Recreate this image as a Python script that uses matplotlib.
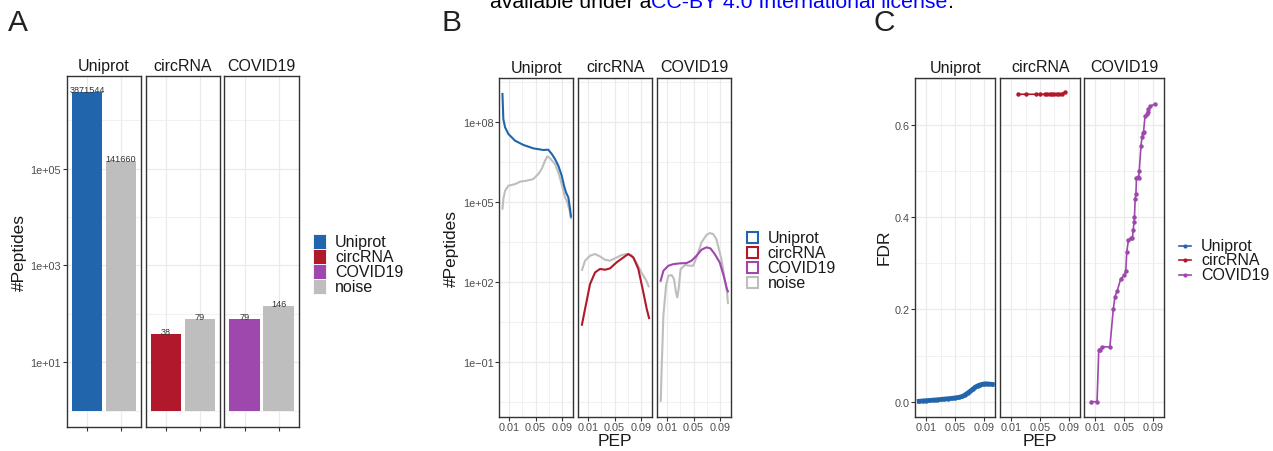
import numpy as np
import matplotlib
matplotlib.use("Agg")
import matplotlib.pyplot as plt
from matplotlib.patches import Rectangle
from matplotlib.lines import Line2D
from matplotlib.ticker import FixedLocator, NullFormatter

plt.rcParams['font.family'] = ['Liberation Sans', 'DejaVu Sans']

# ------------------------------------------------------------------ data
facets = ['Uniprot', 'circRNA', 'COVID19']
legend_a = ['Uniprot', 'circRNA', 'COVID19', 'noise']
facet_colors = ['#2166AC', '#B2182B', '#9E47AC']
noise_color = '#BEBEBE'

# Panel A : number of peptides (target vs noise)
a_target_counts = [3871544, 38, 79]
a_noise_counts = [141660, 79, 146]
a_ytick_labels = ['1e+01', '1e+03', '1e+05']

# Panel B : #Peptides vs PEP (values stored as log10 of #Peptides)
b_uniprot_pep = [0.0, 0.0014, 0.004, 0.009, 0.019, 0.0316, 0.0467, 0.0618, 0.0693,
                 0.0745, 0.0794, 0.0844, 0.0895, 0.093, 0.096, 0.0995, 0.1006, 0.1021, 0.1036]
b_uniprot_log10 = [9.08, 8.10, 7.79, 7.54, 7.29, 7.13, 7.00, 6.94, 6.95,
                   6.79, 6.60, 6.35, 5.98, 5.60, 5.35, 5.16, 4.98, 4.73, 4.41]
b_uniprot_noise_pep = [0.0, 0.0014, 0.004, 0.009, 0.019, 0.0266, 0.0367, 0.0467, 0.0542, 0.0594,
                       0.0643, 0.0678, 0.0719, 0.0794, 0.0844, 0.0895, 0.0945, 0.098, 0.1021, 0.1036]
b_uniprot_noise_log10 = [4.70, 5.10, 5.41, 5.60, 5.66, 5.75, 5.79, 5.85, 6.04, 6.23,
                         6.54, 6.70, 6.63, 6.41, 6.10, 5.66, 5.16, 4.98, 4.60, 4.35]
b_circ_pep = [0.0005, 0.0055, 0.013, 0.0206, 0.0281, 0.0357, 0.0432, 0.0533, 0.0633,
              0.0708, 0.0784, 0.0859, 0.0935, 0.0986, 0.1025]
b_circ_log10 = [0.35, 0.98, 1.91, 2.35, 2.48, 2.45, 2.50, 2.73, 2.91,
                3.04, 2.91, 2.48, 1.60, 0.98, 0.60]
b_circ_noise_pep = [0.0005, 0.0055, 0.013, 0.0205, 0.028, 0.0355, 0.043, 0.0505, 0.0605,
                    0.068, 0.0755, 0.083, 0.0905, 0.098, 0.102]
b_circ_noise_log10 = [2.41, 2.79, 2.975, 3.04, 2.95, 2.825, 2.79, 2.875, 3.0,
                      3.04, 3.0, 2.725, 2.35, 2.04, 1.79]
b_covid_pep = [0.0, 0.0045, 0.012, 0.0195, 0.0295, 0.0395, 0.047, 0.0545, 0.062,
               0.0695, 0.0755, 0.082, 0.0895, 0.0955, 0.1005, 0.1025]
b_covid_log10 = [2.0, 2.41, 2.6, 2.66, 2.69, 2.7, 2.79, 2.975, 3.2,
                 3.29, 3.25, 3.04, 2.725, 2.225, 1.725, 1.6]
b_covid_noise_pep = [0.0005, 0.002, 0.0045, 0.0085, 0.012, 0.017, 0.0205, 0.0235, 0.0255, 0.0275,
                     0.0305, 0.037, 0.0445, 0.0495, 0.0545, 0.062, 0.0695, 0.0745, 0.0795, 0.0845,
                     0.092, 0.097, 0.1005, 0.102]
b_covid_noise_log10 = [-2.5, -1.15, 0.725, 1.85, 2.225, 2.25, 2.1, 1.6, 1.41, 1.725,
                       2.475, 2.625, 2.6, 2.6, 2.91, 3.475, 3.75, 3.825, 3.79, 3.6,
                       2.85, 2.1, 1.6, 1.16]
b_ytick_labels = ['1e\u221201', '1e+02', '1e+05', '1e+08']

# Panel C : FDR vs PEP
c_uniprot_pep = [0.0, 0.005, 0.010, 0.015, 0.020, 0.025, 0.030, 0.035, 0.040, 0.045, 0.050,
                 0.055, 0.060, 0.064, 0.068, 0.071, 0.075, 0.078, 0.082, 0.085, 0.088,
                 0.092, 0.096, 0.1015]
c_uniprot_fdr = [0.0010, 0.0018, 0.0024, 0.0029, 0.0036, 0.0042, 0.0050, 0.0058, 0.0065, 0.0073,
                 0.0083, 0.0095, 0.0115, 0.0152, 0.0195, 0.0230, 0.0280, 0.0318, 0.0350, 0.0368,
                 0.0380, 0.0390, 0.0385, 0.0375]
c_circ_pep = [0.0192, 0.0310, 0.0450, 0.0496, 0.0566, 0.0598, 0.0636, 0.0668, 0.0696,
              0.0730, 0.0762, 0.0800, 0.0846]
c_circ_fdr = [0.6667, 0.6667, 0.6667, 0.6667, 0.6667, 0.6667, 0.6667, 0.6667, 0.6667,
              0.6667, 0.6670, 0.6680, 0.6710]
c_covid_pep = [0.0038, 0.0123, 0.0147, 0.0171, 0.0193, 0.0302, 0.0349, 0.0373, 0.0405, 0.0453,
               0.0500, 0.0524, 0.0538, 0.0560, 0.0594, 0.0617, 0.0627, 0.0641, 0.0645, 0.0655,
               0.0665, 0.0673, 0.0688, 0.0702, 0.0712, 0.0736, 0.0750, 0.0764, 0.0772, 0.0792,
               0.0815, 0.0829, 0.0839, 0.0863, 0.0933]
c_covid_fdr = [0.0, 0.0, 0.1127, 0.1130, 0.1190, 0.1190, 0.2000, 0.2280, 0.2405, 0.2665,
               0.2737, 0.2845, 0.3257, 0.3496, 0.3547, 0.3550, 0.3727, 0.3907, 0.4002, 0.4399,
               0.4500, 0.4847, 0.4869, 0.4860, 0.5012, 0.5554, 0.5735, 0.5829, 0.5857, 0.6190,
               0.6240, 0.6290, 0.6350, 0.6407, 0.6457]

pep_ticks = [0.01, 0.05, 0.09]
pep_tick_labels = ['0.01', '0.05', '0.09']
c_ytick_values = [0.0, 0.2, 0.4, 0.6]
c_ytick_labels = ['0.0', '0.2', '0.4', '0.6']

# ------------------------------------------------------------------ figure
W, H = 1273, 452
fig = plt.figure(figsize=(W / 100, H / 100), dpi=100)

GRID = '#EBEBEB'
FRAME = '#333333'
TICKTXT = '#4D4D4D'
TXT = '#1A1A1A'
TICK_FS = 7.8
STRIP_FS = 11.5
TITLE_FS = 12.5
LEG_FS = 11.5


def px_axes(x0, y0, x1, y1):
    return fig.add_axes([x0 / W, 1 - y1 / H, (x1 - x0) / W, (y1 - y0) / H])


def fig_text(x, y, s, **kw):
    return fig.text(x / W, 1 - y / H, s, **kw)


def base_style(ax):
    ax.set_facecolor('white')
    for s in ax.spines.values():
        s.set_color(FRAME)
        s.set_linewidth(1.0)
    ax.tick_params(which='major', direction='out', length=3.0, width=0.8, color=FRAME,
                   labelcolor=TICKTXT, labelsize=TICK_FS, pad=1.0)
    ax.tick_params(which='minor', length=0, width=0)
    ax.grid(True, which='major', color=GRID, lw=0.9)
    ax.grid(True, which='minor', color=GRID, lw=0.5)
    ax.set_axisbelow(True)


# ---------------- Panel A
a_x = [(66.7, 141.0), (145.7, 220.0), (224.3, 299.0)]
for i, (x0, x1) in enumerate(a_x):
    ax = px_axes(x0, 76.7, x1, 427.7)
    base_style(ax)
    ax.set_yscale('log')
    vals = [a_target_counts[i], a_noise_counts[i]]
    ax.bar([1, 2], [v - 1 for v in vals], bottom=1, width=0.9,
           color=[facet_colors[i], noise_color], zorder=2)
    for xx, v in zip([1, 2], vals):
        ax.text(xx, v, str(v), ha='center', va='baseline', fontsize=6.6, color='#333333', zorder=3)
    ax.set_xlim(0.4, 2.6)
    ax.set_ylim(10 ** -0.331, 10 ** 6.921)
    ax.yaxis.set_major_locator(FixedLocator([1e1, 1e3, 1e5]))
    ax.yaxis.set_minor_locator(FixedLocator([1e0, 1e2, 1e4, 1e6]))
    ax.yaxis.set_minor_formatter(NullFormatter())
    ax.set_xticks([1, 2])
    ax.set_xticklabels([])
    if i == 0:
        ax.set_yticklabels(a_ytick_labels)
    else:
        ax.tick_params(axis='y', which='both', left=False, labelleft=False)
    fig_text((x0 + x1) / 2, 66.7, facets[i], ha='center', va='center', fontsize=STRIP_FS, color=TXT)

fig_text(19.7, 252.5, '#Peptides', rotation=90, ha='center', va='center', fontsize=TITLE_FS, color=TXT)

# ---------------- Panel B
b_x = [(499.3, 573.3), (578.3, 652.3), (657.3, 731.3)]
b_data = [
    (b_uniprot_pep, b_uniprot_log10, b_uniprot_noise_pep, b_uniprot_noise_log10),
    (b_circ_pep, b_circ_log10, b_circ_noise_pep, b_circ_noise_log10),
    (b_covid_pep, b_covid_log10, b_covid_noise_pep, b_covid_noise_log10),
]
for i, (x0, x1) in enumerate(b_x):
    ax = px_axes(x0, 78.7, x1, 417.7)
    base_style(ax)
    ax.set_yscale('log')
    px_, py_, nx_, ny_ = b_data[i]
    ax.plot(nx_, np.power(10.0, ny_), color=noise_color, lw=1.5, zorder=2, solid_capstyle='butt')
    ax.plot(px_, np.power(10.0, py_), color=facet_colors[i], lw=1.5, zorder=3, solid_capstyle='butt')
    ax.set_xlim(-0.0047, 0.1070)
    ax.set_ylim(10 ** -3.06, 10 ** 9.65)
    ax.yaxis.set_major_locator(FixedLocator([1e-1, 1e2, 1e5, 1e8]))
    ax.yaxis.set_minor_locator(FixedLocator([10 ** -2.5, 10 ** 0.5, 10 ** 3.5, 10 ** 6.5, 10 ** 9.5]))
    ax.yaxis.set_minor_formatter(NullFormatter())
    ax.set_xticks(pep_ticks)
    ax.set_xticklabels(pep_tick_labels)
    ax.xaxis.set_minor_locator(FixedLocator([0.03, 0.07]))
    if i == 0:
        ax.set_yticklabels(b_ytick_labels)
    else:
        ax.tick_params(axis='y', which='both', left=False, labelleft=False)
    fig_text((x0 + x1) / 2, 68.0, facets[i], ha='center', va='center', fontsize=STRIP_FS, color=TXT)

fig_text(451.7, 248.3, '#Peptides', rotation=90, ha='center', va='center', fontsize=TITLE_FS, color=TXT)
fig_text(615.3, 441.3, 'PEP', ha='center', va='center', fontsize=TITLE_FS, color=TXT)

# ---------------- Panel C
c_x = [(915.3, 995.3), (1000.3, 1080.0), (1084.3, 1164.0)]
c_data = [(c_uniprot_pep, c_uniprot_fdr), (c_circ_pep, c_circ_fdr), (c_covid_pep, c_covid_fdr)]
for i, (x0, x1) in enumerate(c_x):
    ax = px_axes(x0, 78.7, x1, 417.7)
    base_style(ax)
    xs, ys = c_data[i]
    lw = 3.4 if i == 0 else 1.2
    ax.plot(xs, ys, color=facet_colors[i], lw=lw, marker='o', ms=3.2, mew=0, zorder=3)
    ax.set_xlim(-0.0055, 0.1057)
    ax.set_ylim(-0.0325, 0.7026)
    ax.yaxis.set_major_locator(FixedLocator(c_ytick_values))
    ax.yaxis.set_minor_locator(FixedLocator([0.1, 0.3, 0.5, 0.7]))
    ax.yaxis.set_minor_formatter(NullFormatter())
    ax.set_xticks(pep_ticks)
    ax.set_xticklabels(pep_tick_labels)
    ax.xaxis.set_minor_locator(FixedLocator([0.03, 0.07]))
    if i == 0:
        ax.set_yticklabels(c_ytick_labels)
    else:
        ax.tick_params(axis='y', which='both', left=False, labelleft=False)
    fig_text((x0 + x1) / 2, 68.0, facets[i], ha='center', va='center', fontsize=STRIP_FS, color=TXT)

fig_text(884.0, 247.5, 'FDR', rotation=90, ha='center', va='center', fontsize=TITLE_FS, color=TXT)
fig_text(1039.7, 441.3, 'PEP', ha='center', va='center', fontsize=TITLE_FS, color=TXT)

# ---------------- overlay: legends, panel letters, watermark
ov = fig.add_axes([0, 0, 1, 1], zorder=10)
ov.set_xlim(0, W)
ov.set_ylim(H, 0)
ov.axis('off')
ov.patch.set_alpha(0)

leg_a_colors = facet_colors + [noise_color]
for k, (lab, col) in enumerate(zip(legend_a, leg_a_colors)):
    yc = 242.3 + 15.0 * k
    ov.add_patch(Rectangle((313, yc - 7.2), 13, 14.4, facecolor=col, edgecolor='white', lw=0.6))
    ov.text(335, yc, lab, ha='left', va='center', fontsize=LEG_FS, color=TXT)

for k, (lab, col) in enumerate(zip(legend_a, leg_a_colors)):
    yc = 238.3 + 15.0 * k
    ov.add_patch(Rectangle((746.5, yc - 5.6), 11, 11.2, facecolor='white', edgecolor=col, lw=1.5))
    ov.text(767.7, yc, lab, ha='left', va='center', fontsize=LEG_FS, color=TXT)

for k, (lab, col) in enumerate(zip(facets, facet_colors)):
    yc = 246.5 + 14.5 * k
    ov.add_line(Line2D([1179, 1191], [yc, yc], color=col, lw=1.2))
    ov.plot([1185], [yc], marker='o', ms=3.0, mew=0, color=col)
    ov.text(1201, yc, lab, ha='left', va='center', fontsize=LEG_FS, color=TXT)

for lab, x, y in [('A', 8.0, 30.7), ('B', 441.5, 30.7), ('C', 873.5, 31.0)]:
    ov.text(x, y, lab, ha='left', va='baseline', fontsize=21.5, color='#222222')

renderer = fig.canvas.get_renderer()
x_cur = 490.0
for part, col in [('available under a', 'black'), ('CC-BY 4.0 International license', '#0000FF'), ('.', 'black')]:
    t = ov.text(x_cur, 8.3, part, ha='left', va='baseline', fontsize=15.3, color=col)
    bb = t.get_window_extent(renderer)
    x_cur = bb.x1

fig.savefig('out.png', dpi=100)
